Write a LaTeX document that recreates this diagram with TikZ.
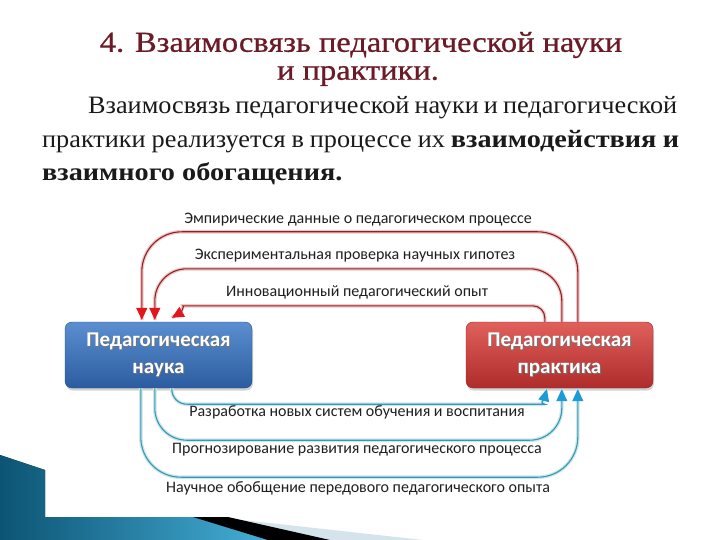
\documentclass[tikz,border=0pt]{standalone}
\usepackage{fontspec}
\usetikzlibrary{arrows.meta,shadows,calc}
\newfontfamily\titlefont[FakeStretch=1.12,FakeBold=0.7]{Liberation Serif}
\newfontfamily\bodyfont[FakeStretch=1.05,BoldFeatures={FakeStretch=1.13}]{Liberation Serif}
\newfontfamily\labfont{Carlito}
\definecolor{titlered}{HTML}{6B1A26}
\definecolor{bodyink}{HTML}{1A1A1A}
\definecolor{labink}{HTML}{1F1F1F}
\definecolor{redline}{HTML}{8A2424}
\definecolor{redhalo}{HTML}{F3C6C6}
\definecolor{redtip}{HTML}{E3161C}
\definecolor{blueline}{HTML}{3A97AE}
\definecolor{bluehalo}{HTML}{C9E7EF}
\definecolor{bluetip}{HTML}{1C9BD7}
\definecolor{boxbluetop}{HTML}{5B8FD0}
\definecolor{boxbluebot}{HTML}{2B5C9F}
\definecolor{boxredtop}{HTML}{E0605C}
\definecolor{boxredbot}{HTML}{AE2C2A}
\definecolor{decdark}{HTML}{0C5474}
\definecolor{declight}{HTML}{45AED6}
\definecolor{decpale}{HTML}{D5E3EC}
\newcommand{\shadowtext}[1]{\makebox[0pt][l]{\hspace{0.9pt}\raisebox{-0.9pt}{\color{black!55}#1}}#1}
\begin{document}
\begin{tikzpicture}[x=1pt,y=-1pt,
  redarrow/.style={draw=redline, line width=1.1pt,
    preaction={draw=redhalo, line width=3.6pt, -},
    -{Triangle[length=12pt,width=11pt,color=redtip]}},
  bluearrow/.style={draw=blueline, line width=1.1pt,
    preaction={draw=bluehalo, line width=3.6pt, -},
    -{Triangle[length=12pt,width=11pt,color=bluetip]}},
  boxbase/.style={rounded corners=7pt, minimum width=187pt, minimum height=66pt,
    align=center, text=white, inner sep=0pt,
    font=\labfont\bfseries\fontsize{21}{27}\selectfont,
    drop shadow={shadow xshift=1pt,shadow yshift=-2.5pt,opacity=.35}},
  scibox/.style={boxbase, top color=boxbluetop, bottom color=boxbluebot, draw=boxbluebot!85!black},
  pracbox/.style={boxbase, top color=boxredtop, bottom color=boxredbot, draw=boxredbot!85!black},
  lab/.style={font=\labfont\fontsize{16}{18}\selectfont, text=labink, inner sep=0pt},
  bodytext/.style={font=\bodyfont\fontsize{25}{30}\selectfont, text=bodyink, inner sep=0pt, anchor=west},
  titletext/.style={font=\titlefont\fontsize{29}{34}\selectfont, text=titlered, inner sep=0pt}
]
\useasboundingbox (0,0) rectangle (720,540);
\fill[white] (0,0) rectangle (720,540);

% bottom-left decoration
\fill[decpale] (215,517) -- (423,540) -- (268,540) -- cycle;
\fill[left color=decdark, right color=declight] (0,455) -- (45,470) -- (45,517) -- (200,517) -- (268,540) -- (0,540) -- cycle;
\fill[black] (193,517) -- (228,517) -- (330,540) -- (268,540) -- cycle;

% title and text
\node[titletext] (t1) at (361,45) {4. Взаимосвязь педагогической науки};
\node[titletext] (t2) at (358,76) {и практики.};
\node[bodytext] (b1) at (88,108) {\makebox[589pt][s]{Взаимосвязь педагогической науки и педагогической}};
\node[bodytext] (b2) at (42,142) {\makebox[637pt][s]{практики реализуется в процессе их \textbf{взаимодействия и}}};
\node[bodytext] (b3) at (42,174) {\textbf{взаимного обогащения.}};

% boxes
\node[scibox] (sci) at (158.5,355) {\shadowtext{Педагогическая}\\\shadowtext{наука}};
\node[pracbox] (prac) at (559.5,355) {\shadowtext{Педагогическая}\\\shadowtext{практика}};

% top connectors (practice -> science)
\draw[redarrow, rounded corners=40pt] ([xshift=112pt]prac.north west) -- ++(0,-90) -| ([xshift=77pt,yshift=2pt]sci.north west);
\draw[redarrow, rounded corners=32pt] ([xshift=96pt]prac.north west) -- ++(0,-53) -| ([xshift=90pt,yshift=2pt]sci.north west);
\draw[redarrow, rounded corners=12pt] ([xshift=79pt]prac.north west) |- ($(sci.north west)+(130,-16)$) to[out=180,in=30] ($(sci.north west)+(107,-4)$);

% bottom connectors (science -> practice)
\draw[bluearrow, rounded corners=15pt] ([xshift=107pt]sci.south west) |- ($(prac.south west)+(64,16)$) to[out=0,in=-105] ([xshift=81pt,yshift=-1pt]prac.south west);
\draw[bluearrow, rounded corners=32pt] ([xshift=90pt]sci.south west) -- ++(0,52) -| ([xshift=96pt,yshift=-1pt]prac.south west);
\draw[bluearrow, rounded corners=40pt] ([xshift=76pt]sci.south west) -- ++(0,89) -| ([xshift=112pt,yshift=-1pt]prac.south west);

% labels
\node[lab] (l1) at (358,220) {Эмпирические данные о педагогическом процессе};
\node[lab] (l2) at (355,256) {Экспериментальная проверка научных гипотез};
\node[lab] (l3) at (357,292) {Инновационный педагогический опыт};
\node[lab] (l4) at (357,412) {Разработка новых систем обучения и воспитания};
\node[lab] (l5) at (357,450) {Прогнозирование развития педагогического процесса};
\node[lab] (l6) at (358,488) {Научное обобщение передового педагогического опыта};
\end{tikzpicture}
\end{document}
